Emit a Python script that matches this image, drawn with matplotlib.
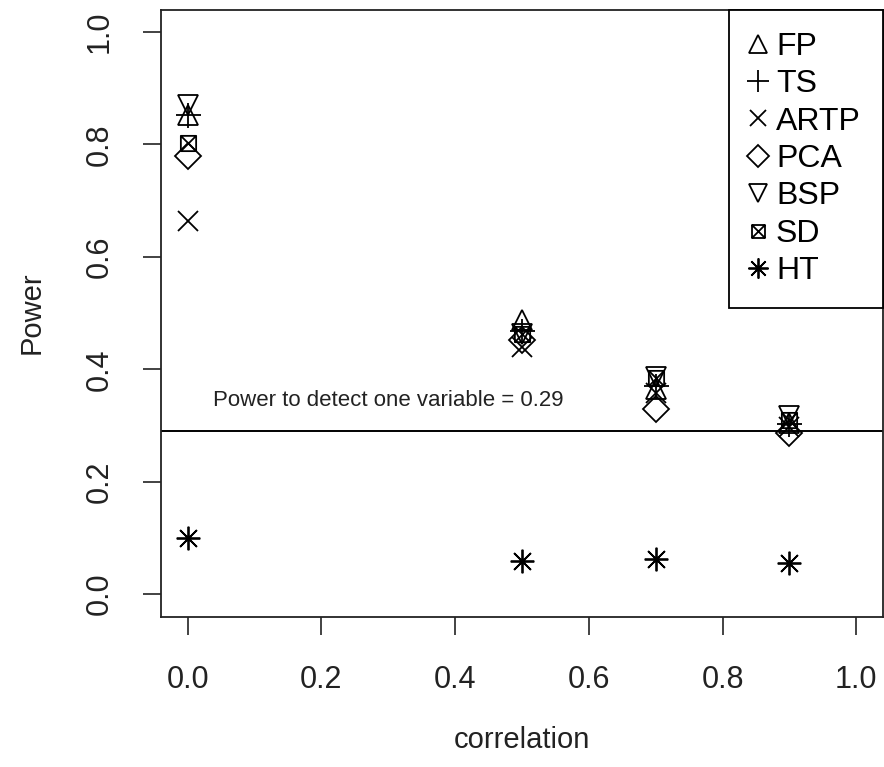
import numpy as np
import matplotlib
matplotlib.use("Agg")
import matplotlib.pyplot as plt
from matplotlib.path import Path
from matplotlib.lines import Line2D

plt.rcParams['font.family'] = ['Liberation Sans', 'DejaVu Sans']

# correlation levels
corr = [0.0, 0.5, 0.7, 0.9]

# power for each method
fp   = [0.852, 0.487, 0.365, 0.305]
ts   = [0.852, 0.468, 0.370, 0.303]
artp = [0.664, 0.440, 0.358, 0.298]
pca  = [0.779, 0.452, 0.330, 0.286]
bsp  = [0.870, 0.463, 0.386, 0.317]
sd   = [0.802, 0.462, 0.385, 0.310]
ht   = [0.100, 0.059, 0.062, 0.055]

single_power = 0.29

names = ["FP", "TS", "ARTP", "PCA", "BSP", "SD", "HT"]
series = [fp, ts, artp, pca, bsp, sd, ht]

# square with an x inside (R pch 7)
box_x = Path([(-1, -1), (1, -1), (1, 1), (-1, 1), (-1, -1),
              (-1, -1), (1, 1), (-1, 1), (1, -1)],
             [Path.MOVETO, Path.LINETO, Path.LINETO, Path.LINETO, Path.CLOSEPOLY,
              Path.MOVETO, Path.LINETO, Path.MOVETO, Path.LINETO])

markers = ['^', '+', 'x', 'D', 'v', box_x, (8, 2, 0)]
sizes = [15, 18, 14, 13, 15, 11, 17]

fig = plt.figure(figsize=(8.84, 7.67), dpi=100)
ax = fig.add_axes([0.182, 0.196, 0.817, 0.7915])

handles = []
for name, vals, m, s in zip(names, series, markers, sizes):
    ax.plot(corr, vals, linestyle='none', marker=m, markersize=s,
            markerfacecolor='none', markeredgecolor='black', markeredgewidth=1.3)
    handles.append(Line2D([], [], linestyle='none', marker=m, markersize=s * 0.85,
                          markerfacecolor='none', markeredgecolor='black',
                          markeredgewidth=1.3, label=name))

ax.axhline(single_power, color='black', linewidth=1.4)
ax.text(0.3, 0.345, "Power to detect one variable = %.2f" % single_power,
        ha='center', va='center', fontsize=16, color='#222222')

ax.set_xlim(-0.04, 1.04)
ax.set_ylim(-0.04, 1.04)
ticks = np.arange(0, 1.01, 0.2)
ax.set_xticks(ticks)
ax.set_yticks(ticks)
ax.set_xticklabels(["%.1f" % v for v in ticks], fontsize=22)
ax.set_yticklabels(["%.1f" % v for v in ticks], rotation=90, va='center',
                   fontsize=22)
ax.tick_params(axis='both', direction='out', length=13, width=1.2,
               color='#222222', labelcolor='#222222')
ax.tick_params(axis='x', pad=22)
ax.tick_params(axis='y', pad=20)
for sp in ax.spines.values():
    sp.set_linewidth(1.3)
    sp.set_color('#222222')

ax.set_xlabel("correlation", fontsize=21, color='#222222', va='center')
ax.xaxis.set_label_coords(0.5, -0.203)
ax.set_ylabel("Power", fontsize=21, color='#222222', va='center')
ax.yaxis.set_label_coords(-0.179, 0.5)

leg = ax.legend(handles=handles, loc='upper right', borderaxespad=0,
                fancybox=False, edgecolor='black', fontsize=23,
                handlelength=0.41, handletextpad=0.36, labelspacing=0.23,
                borderpad=0.7, framealpha=1)
leg.get_frame().set_linewidth(1.3)

fig.savefig("out.png", dpi=100)
